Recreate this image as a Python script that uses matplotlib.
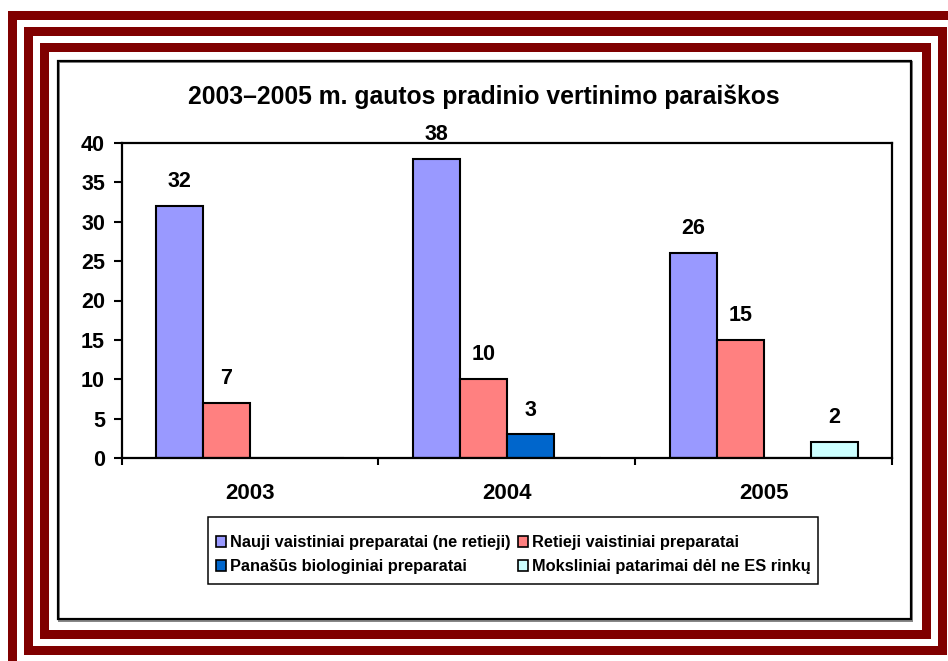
import matplotlib
matplotlib.use("Agg")
import matplotlib.pyplot as plt
from matplotlib.patches import Rectangle, Patch
import numpy as np

plt.rcParams['font.family'] = ['Liberation Sans', 'DejaVu Sans']
plt.rcParams['font.weight'] = 'bold'

years = ["2003", "2004", "2005"]
series_names = [
    "Nauji vaistiniai preparatai (ne retieji)",
    "Retieji vaistiniai preparatai",
    "Panašūs biologiniai preparatai",
    "Moksliniai patarimai dėl ne ES rinkų",
]
new_drugs = [32, 38, 26]
orphan_drugs = [7, 10, 15]
biosimilars = [0, 3, 0]
scientific_advice = [0, 0, 2]
series_colors = ["#9999FF", "#FF8080", "#0066CC", "#CCFFFF"]
title = "2003–2005 m. gautos pradinio vertinimo paraiškos"

W, H = 948, 661
fig = plt.figure(figsize=(W / 100, H / 100), dpi=100)
fig.patch.set_facecolor("white")


def fx(px):
    return px / W


def fy(py):
    return 1 - py / H


# decorative dark red frame
for (l, t, r, b) in [(11.5, 14.5, 957.5, 665.5), (27.5, 30.5, 941.5, 649.5), (43.5, 46.5, 925.5, 633.5)]:
    fig.patches.append(Rectangle((fx(l), fy(b)), fx(r) - fx(l), fy(t) - fy(b),
                                 transform=fig.transFigure, fill=False,
                                 edgecolor="#800000", linewidth=9 * 0.72,
                                 joinstyle="miter", zorder=0))

# chart area border with a soft shadow
fig.patches.append(Rectangle((fx(59), fy(621)), fx(912) - fx(59), fy(62) - fy(621),
                             transform=fig.transFigure, fill=False,
                             edgecolor="#888888", linewidth=2 * 0.72, zorder=0))
fig.patches.append(Rectangle((fx(57.5), fy(619)), fx(910.5) - fx(57.5), fy(60.5) - fy(619),
                             transform=fig.transFigure, fill=False,
                             edgecolor="black", linewidth=2.2 * 0.72, zorder=1))

ax = fig.add_axes([fx(121.7), fy(458), fx(892) - fx(121.7), fy(143) - fy(458)])

all_series = [new_drugs, orphan_drugs, biosimilars, scientific_advice]
x = np.arange(len(years))
bw = 47 / 257
offsets = (np.arange(4) - 1.5) * bw
for vals, off, col in zip(all_series, offsets, series_colors):
    bars = ax.bar(x + off, vals, width=bw, color=col, edgecolor="black", linewidth=1.5)
    for rect, v in zip(bars, vals):
        if v:
            ax.annotate(str(v), (rect.get_x() + rect.get_width() / 2, v),
                        xytext=(0, 17.5), textcoords="offset points",
                        ha="center", va="center", fontsize=15.5, fontweight="bold")

ax.set_xlim(-0.5, 2.5)
ax.set_ylim(0, 40)
ax.set_yticks(range(0, 41, 5))
ax.tick_params(axis="y", direction="out", length=6, width=1.5, pad=6, labelsize=15.5)
ax.set_xticks([-0.5, 0.5, 1.5, 2.5])
ax.set_xticklabels([])
ax.set_xticks(x, minor=True)
ax.set_xticklabels(years, minor=True, fontsize=16, fontweight="bold")
ax.tick_params(axis="x", which="major", direction="out", length=5, width=1.5)
ax.tick_params(axis="x", which="minor", length=0, pad=18)
for s in ax.spines.values():
    s.set_linewidth(1.6)

fig.text(fx(484), fy(97), title, ha="center", va="center", fontsize=17.8, fontweight="bold")

# legend box
fig.patches.append(Rectangle((fx(208), fy(584)), fx(818) - fx(208), fy(517) - fy(584),
                             transform=fig.transFigure, fill=False,
                             edgecolor="black", linewidth=1.5 * 0.72, zorder=1))
handles = [Patch(facecolor=c, edgecolor="black", linewidth=1.2) for c in series_colors]
order = [0, 2, 1, 3]
leg = fig.legend([handles[i] for i in order], [series_names[i] for i in order],
                 loc="center", bbox_to_anchor=(fx(513), fy(554.5)), ncol=2,
                 frameon=False, handlelength=0.65, handleheight=0.65, handletextpad=0.2,
                 columnspacing=0.45, labelspacing=0.55, borderpad=0.0,
                 prop={"weight": "bold", "size": 11.8})

fig.savefig("out.png", dpi=100)
